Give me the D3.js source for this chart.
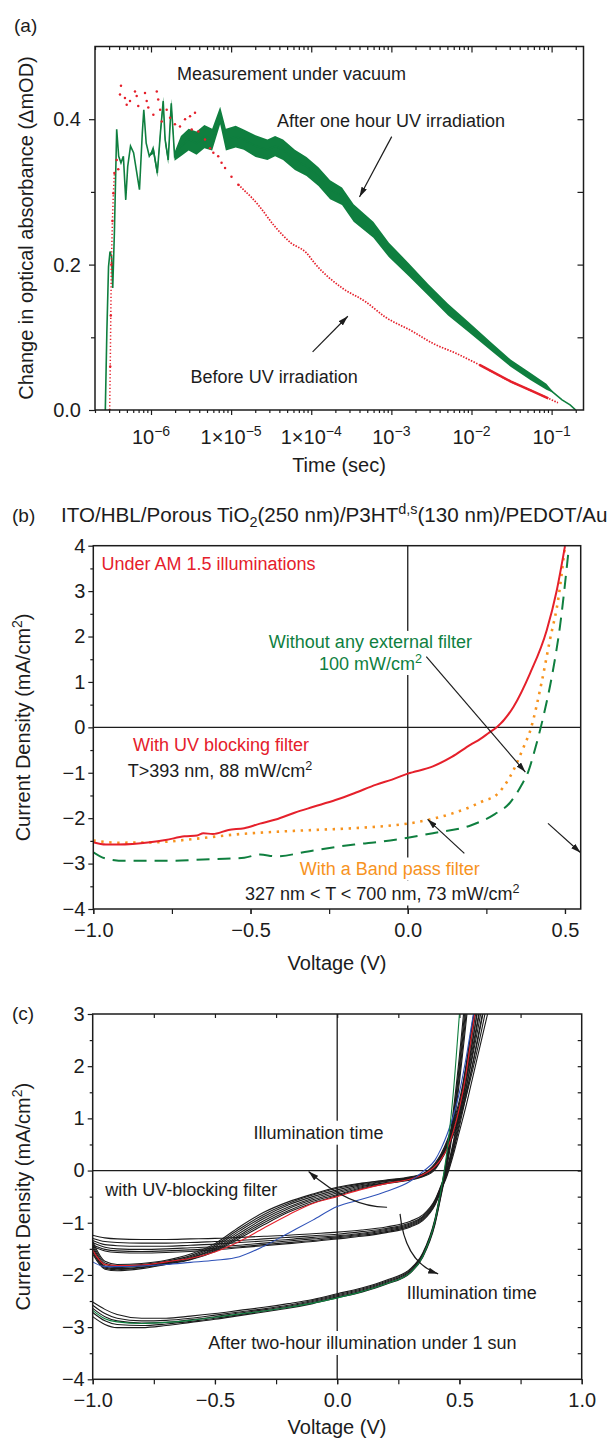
<!DOCTYPE html>
<html>
<head>
<meta charset="utf-8">
<script src="https://cdn.jsdelivr.net/npm/d3@7"></script>
<style>
  body { margin: 0; background: #fff; }
  text { font-family: "Liberation Sans", Arial, Helvetica, sans-serif; }
</style>
</head>
<body>
<div id="chart"></div>
<script>
// ---------- panel (a): transient absorption, time in seconds ----------
const aTicks = [1e-6, 1e-5, 1e-4, 1e-3, 1e-2, 1e-1];
const aTickLabels = [["10", "−6"], ["1×10", "−5"], ["1×10", "−4"], ["10", "−3"], ["10", "−2"], ["10", "−1"]];

const greenT = [2.69e-7, 2.81e-7, 2.95e-7, 3.08e-7, 3.22e-7, 3.33e-7, 3.49e-7, 3.73e-7, 3.95e-7, 4.22e-7,
  4.52e-7, 4.84e-7, 5.12e-7, 5.55e-7, 6.06e-7, 7.18e-7, 7.79e-7, 8.13e-7, 8.71e-7, 9.52e-7,
  1.07e-6, 1.2e-6, 1.31e-6, 1.42e-6, 1.5e-6, 1.64e-6, 1.79e-6, 1.97e-6, 2.36e-6, 2.95e-6,
  3.7e-6, 4.64e-6, 5.8e-6, 7.3e-6, 8.6e-6, 1.14e-5, 1.44e-5, 2.02e-5, 2.84e-5, 3.54e-5,
  4.45e-5, 6.25e-5, 8.73e-5, 1.23e-4, 1.72e-4, 2.42e-4, 3.38e-4, 5.96e-4, 9.34e-4, 1.65e-3,
  2.9e-3, 5.1e-3, 9.0e-3, 0.0177, 0.0311, 0.0548, 0.086, 0.108, 0.135, 0.17, 0.2];
const greenV = [0, 0.106, 0.197, 0.218, 0.211, 0.168, 0.243, 0.386, 0.349, 0.340,
  0.349, 0.289, 0.335, 0.363, 0.354, 0.303, 0.381, 0.413, 0.367, 0.349,
  0.358, 0.326, 0.381, 0.425, 0.372, 0.344, 0.422, 0.349, 0.363, 0.372,
  0.367, 0.376, 0.372, 0.405, 0.372, 0.376, 0.372, 0.363, 0.358, 0.363,
  0.358, 0.344, 0.335, 0.321, 0.303, 0.294, 0.271, 0.248, 0.220, 0.193,
  0.165, 0.138, 0.115, 0.087, 0.064, 0.046, 0.032, 0.023, 0.014, 0.007, 0];
// half-width of the noisy band around the green trace
const greenSpread = [0, 0, 0, 0, 0, 0, 0, 0, 0, 0,
  0, 0, 0, 0, 0, 0, 0, 0, 0, 0,
  0.006, 0.006, 0.006, 0.006, 0.006, 0.006, 0.006, 0.006, 0.014, 0.015,
  0.016, 0.016, 0.015, 0.012, 0.015, 0.015, 0.014, 0.015, 0.014, 0.014,
  0.014, 0.014, 0.013, 0.013, 0.013, 0.012, 0.012, 0.011, 0.010, 0.009,
  0.008, 0.008, 0.007, 0.006, 0.005, 0.005, 0.004, 0, 0, 0, 0];

const redScatterT = [3.05e-7, 3.1e-7, 3.15e-7, 3.2e-7, 3.3e-7, 3.39e-7, 3.49e-7, 3.73e-7, 3.9e-7, 4.1e-7,
  4.22e-7, 4.73e-7, 4.97e-7, 5.47e-7, 6.31e-7, 6.63e-7, 6.93e-7, 8.41e-7, 8.84e-7, 9.25e-7,
  1.07e-6, 1.18e-6, 1.23e-6, 1.3e-6, 1.36e-6, 1.57e-6, 1.73e-6, 1.99e-6, 2.3e-6, 2.66e-6,
  3.07e-6, 3.22e-6, 3.54e-6, 3.9e-6, 4.72e-6, 5.45e-6, 6.0e-6, 6.9e-6, 7.6e-6, 8.4e-6,
  1.01e-5, 1.23e-5];
const redScatterV = [0.0, 0.06, 0.13, 0.2, 0.26, 0.298, 0.326, 0.344, 0.331, 0.434,
  0.446, 0.429, 0.42, 0.425, 0.438, 0.432, 0.418, 0.436, 0.425, 0.416,
  0.406, 0.438, 0.427, 0.413, 0.397, 0.413, 0.402, 0.393, 0.39, 0.40,
  0.404, 0.386, 0.409, 0.383, 0.372, 0.36, 0.354, 0.349, 0.34, 0.333,
  0.321, 0.31];
const redDecayT = [1.23e-5, 1.49e-5, 1.81e-5, 2.18e-5, 3.54e-5, 5.56e-5, 8.73e-5, 1.1e-4, 2.42e-4, 4.76e-4,
  8.37e-4, 1.85e-3, 3.25e-3, 6.4e-3, 0.0126, 0.0311, 0.0548, 0.091, 0.12];
const redDecayV = [0.31, 0.301, 0.292, 0.282, 0.252, 0.230, 0.216, 0.202, 0.168, 0.149,
  0.128, 0.108, 0.092, 0.078, 0.062, 0.039, 0.027, 0.016, 0.010];

// ---------- panel (b): J-V under different filters ----------
const bRedV = [-1, -0.96, -0.92, -0.82, -0.77, -0.71, -0.67, -0.65, -0.62, -0.57, -0.52, -0.47, -0.42, -0.36, -0.30,
  -0.23, -0.17, -0.10, -0.05, 0.0, 0.08, 0.14, 0.20, 0.23, 0.26, 0.283, 0.336, 0.389, 0.442, 0.474, 0.50];
const bRedJ = [-2.53, -2.58, -2.58, -2.53, -2.48, -2.40, -2.38, -2.33, -2.35, -2.26, -2.22, -2.12, -2.03, -1.88, -1.75,
  -1.60, -1.45, -1.26, -1.15, -1.02, -0.86, -0.65, -0.38, -0.26, -0.11, 0.0, 0.45, 1.19, 2.14, 3.02, 3.99];
const bOrangeV = [-1, -0.92, -0.80, -0.67, -0.55, -0.42, -0.30, -0.17, -0.05, 0.0, 0.07, 0.14, 0.20, 0.24, 0.28,
  0.325, 0.367, 0.39, 0.426, 0.452, 0.479, 0.50];
const bOrangeJ = [-2.49, -2.54, -2.53, -2.45, -2.36, -2.30, -2.26, -2.22, -2.16, -2.12, -2.03, -1.90, -1.75, -1.62, -1.50,
  -1.09, -0.46, -0.06, 1.0, 1.92, 2.84, 3.99];
const bGreenV = [-1, -0.96, -0.90, -0.77, -0.65, -0.52, -0.47, -0.42, -0.30, -0.17, -0.10, 0.0, 0.08, 0.20, 0.277,
  0.325, 0.362, 0.383, 0.404, 0.431, 0.458, 0.484, 0.51];
const bGreenJ = [-2.75, -2.89, -2.94, -2.94, -2.91, -2.87, -2.80, -2.84, -2.71, -2.58, -2.53, -2.43, -2.33, -2.16, -1.91,
  -1.66, -1.27, -0.98, -0.50, 0.23, 1.11, 2.22, 3.80];

// ---------- panel (c): J-V curves vs illumination time ----------
const cV = [-1, -0.95, -0.9, -0.8, -0.7, -0.6, -0.5, -0.4, -0.3, -0.2, -0.1, 0, 0.1, 0.2, 0.3, 0.35,
  0.4, 0.425, 0.45, 0.475, 0.5, 0.525, 0.55, 0.575, 0.6, 0.625];
const cFlat1 = [-1.24, -1.29, -1.31, -1.32, -1.32, -1.31, -1.30, -1.28, -1.26, -1.24, -1.21, -1.18, -1.14, -1.08, -0.97, -0.85, -0.56, -0.28, 0.05, 0.55, 1.20, 1.95, 2.75, 3.5, 4.2, 5.0];
const cFlat2 = [-1.30, -1.36, -1.38, -1.39, -1.39, -1.38, -1.36, -1.34, -1.31, -1.28, -1.25, -1.22, -1.17, -1.11, -1.00, -0.88, -0.58, -0.30, 0.02, 0.50, 1.10, 1.80, 2.55, 3.3, 4.0, 4.8];
const cFlat3 = [-1.34, -1.42, -1.44, -1.45, -1.45, -1.43, -1.41, -1.38, -1.35, -1.32, -1.28, -1.25, -1.20, -1.13, -1.02, -0.90, -0.60, -0.32, 0.00, 0.45, 1.00, 1.65, 2.35, 3.1, 3.8, 4.6];
const cFlat4 = [-1.38, -1.47, -1.50, -1.51, -1.50, -1.48, -1.46, -1.43, -1.39, -1.35, -1.31, -1.27, -1.22, -1.15, -1.04, -0.92, -0.62, -0.34, -0.03, 0.40, 0.92, 1.50, 2.15, 2.85, 3.5, 4.2];
const cFlat5 = [-1.42, -1.51, -1.54, -1.55, -1.54, -1.52, -1.49, -1.46, -1.42, -1.38, -1.34, -1.29, -1.24, -1.17, -1.06, -0.94, -0.64, -0.36, -0.06, 0.36, 0.85, 1.38, 1.95, 2.55, 3.15, 3.8];
const cFlat6 = [-1.45, -1.54, -1.57, -1.58, -1.57, -1.55, -1.52, -1.48, -1.44, -1.40, -1.36, -1.31, -1.26, -1.19, -1.08, -0.96, -0.66, -0.38, -0.09, 0.30, 0.75, 1.20, 1.70, 2.20, 2.70, 3.2];
const cS1 = [-1.36, -1.74, -1.80, -1.78, -1.72, -1.60, -1.40, -1.08, -0.80, -0.60, -0.45, -0.32, -0.24, -0.18, -0.12, -0.06, 0.14, 0.32, 0.58, 0.92, 1.35, 1.95, 2.70, 3.5, 4.3, 5.1];
const cS2 = [-1.40, -1.77, -1.82, -1.80, -1.74, -1.63, -1.43, -1.12, -0.84, -0.63, -0.47, -0.34, -0.25, -0.19, -0.13, -0.07, 0.12, 0.30, 0.55, 0.88, 1.28, 1.85, 2.55, 3.3, 4.1, 4.9];
const cS3 = [-1.44, -1.80, -1.84, -1.82, -1.76, -1.65, -1.46, -1.16, -0.88, -0.66, -0.50, -0.37, -0.27, -0.20, -0.14, -0.08, 0.10, 0.28, 0.52, 0.84, 1.22, 1.75, 2.40, 3.1, 3.9, 4.7];
const cS4 = [-1.48, -1.83, -1.86, -1.83, -1.77, -1.67, -1.49, -1.20, -0.92, -0.70, -0.53, -0.40, -0.29, -0.21, -0.15, -0.09, 0.08, 0.26, 0.50, 0.80, 1.16, 1.65, 2.25, 2.9, 3.6, 4.4];
const cS5 = [-1.52, -1.85, -1.88, -1.85, -1.78, -1.68, -1.51, -1.24, -0.96, -0.73, -0.56, -0.43, -0.31, -0.23, -0.16, -0.10, 0.06, 0.24, 0.47, 0.76, 1.10, 1.55, 2.10, 2.7, 3.35, 4.0];
const cS6 = [-1.56, -1.87, -1.90, -1.86, -1.79, -1.70, -1.53, -1.27, -1.00, -0.77, -0.59, -0.46, -0.33, -0.24, -0.17, -0.11, 0.04, 0.22, 0.44, 0.72, 1.04, 1.45, 1.95, 2.5, 3.1, 3.7];
const cS7 = [-1.60, -1.89, -1.92, -1.88, -1.80, -1.71, -1.55, -1.30, -1.04, -0.80, -0.62, -0.48, -0.35, -0.25, -0.18, -0.12, 0.02, 0.20, 0.42, 0.68, 0.98, 1.38, 1.85, 2.35, 2.9, 3.5];
const cRed = [-1.53, -1.80, -1.82, -1.81, -1.75, -1.68, -1.56, -1.36, -1.10, -0.85, -0.63, -0.50, -0.36, -0.25, -0.16, -0.08, 0.08, 0.22, 0.42, 0.75, 1.20, 1.80, 2.60, 3.4, 4.2, 5.0];
const cBlue = [-1.75, -1.84, -1.84, -1.83, -1.80, -1.76, -1.72, -1.65, -1.45, -1.20, -0.95, -0.69, -0.55, -0.40, -0.20, -0.02, 0.20, 0.42, 0.70, 1.05, 1.50, 2.10, 2.80, 3.5, 4.2, 4.9];
const cLow1 = [-2.52, -2.66, -2.76, -2.83, -2.83, -2.79, -2.74, -2.68, -2.62, -2.55, -2.47, -2.36, -2.25, -2.10, -1.88, -1.58, -0.92, -0.35, 0.30, 1.15, 2.20, 3.4, 4.6, 5.8, 7.0, 8.0];
const cLow2 = [-2.58, -2.74, -2.83, -2.88, -2.87, -2.83, -2.77, -2.71, -2.65, -2.58, -2.49, -2.38, -2.27, -2.12, -1.90, -1.60, -0.95, -0.38, 0.25, 1.05, 2.05, 3.2, 4.4, 5.6, 6.8, 8.0];
const cLow3 = [-2.64, -2.80, -2.88, -2.92, -2.91, -2.86, -2.80, -2.73, -2.67, -2.60, -2.51, -2.40, -2.29, -2.14, -1.92, -1.62, -0.98, -0.42, 0.20, 0.98, 1.95, 3.05, 4.2, 5.4, 6.6, 7.8];
const cLow4 = [-2.72, -2.88, -2.95, -2.97, -2.94, -2.89, -2.83, -2.76, -2.69, -2.62, -2.53, -2.42, -2.31, -2.16, -1.94, -1.64, -1.00, -0.45, 0.15, 0.90, 1.82, 2.9, 4.0, 5.2, 6.4, 7.6];
const cLow5 = [-2.80, -2.95, -3.01, -3.01, -2.97, -2.91, -2.85, -2.78, -2.71, -2.64, -2.55, -2.44, -2.33, -2.18, -1.96, -1.66, -1.03, -0.48, 0.10, 0.82, 1.70, 2.75, 3.85, 5.0, 6.2, 7.4];
const cGreen = [-2.68, -2.84, -2.90, -2.93, -2.91, -2.87, -2.81, -2.75, -2.69, -2.62, -2.54, -2.44, -2.32, -2.17, -1.95, -1.64, -0.96, -0.36, 0.40, 1.50, 3.00, 4.5, 6.0, 7.5, 9.0, 10.5];

const ink = "#1c1c1c";
const cRedInk = "#e5202b", cGreenInk = "#0f7f3f", cOrangeInk = "#f7931e", cBlueInk = "#2f52b8";

const svg = d3.select("#chart").append("svg")
  .attr("width", 616).attr("height", 1438);

const defs = svg.append("defs");
defs.append("marker")
  .attr("id", "arr").attr("viewBox", "0 0 10 10").attr("refX", 10).attr("refY", 5)
  .attr("markerWidth", 10).attr("markerHeight", 6).attr("markerUnits", "userSpaceOnUse")
  .attr("preserveAspectRatio", "none").attr("orient", "auto")
  .append("path").attr("d", "M0,0L10,5L0,10Z").attr("fill", ink);

function clip(id, x0, y0, x1, y1) {
  defs.append("clipPath").attr("id", id).append("rect")
    .attr("x", x0).attr("y", y0).attr("width", x1 - x0).attr("height", y1 - y0);
}

// text with sub/superscript pieces
function rich(sel, parts, fs) {
  let shift = 0;
  parts.forEach(([s, kind]) => {
    const target = kind === "sup" ? -0.38 * fs : kind === "sub" ? 0.22 * fs : 0;
    const t = sel.append("tspan").text(s).attr("dy", target - shift);
    if (kind) t.attr("font-size", fs * 0.7);
    shift = target;
  });
  return sel;
}

function label(g, x, y, parts, opts = {}) {
  const fs = opts.size || 18;
  const t = g.append("text").attr("x", x).attr("y", y)
    .attr("font-size", fs).attr("fill", opts.color || ink)
    .attr("text-anchor", opts.anchor || "start");
  rich(t, parts, fs);
  return t;
}

function axisG(g, axis, tr) {
  const a = g.append("g").attr("transform", tr).call(axis);
  a.select(".domain").remove();
  a.selectAll(".tick line").attr("stroke", ink).attr("stroke-width", 1.2);
  a.selectAll("text").attr("font-size", 20).attr("fill", ink);
  return a;
}

function whiteBehind(layer, nodes, pad) {
  nodes.forEach(n => {
    const b = n.node().getBBox();
    layer.append("rect").attr("x", b.x - pad).attr("y", b.y - pad)
      .attr("width", b.width + 2 * pad).attr("height", b.height + 2 * pad).attr("fill", "#fff");
  });
}

// ================= panel (a) =================
const xA = d3.scaleLog().domain([2e-7, 0.25]).range([95, 583.5]);
const yA = d3.scaleLinear().domain([0, 0.5]).range([410, 46.5]);
const gA = svg.append("g");
clip("clipA", 95, 46.5, 583.5, 410);

const aMinor = xA.ticks().filter(v => !aTicks.some(m => Math.abs(m - v) / m < 1e-6));
axisG(gA, d3.axisBottom(xA).tickValues(aTicks).tickSize(5).tickFormat(""), "translate(0,410)");
axisG(gA, d3.axisBottom(xA).tickValues(aMinor).tickSize(3).tickFormat(""), "translate(0,410)");
axisG(gA, d3.axisTop(xA).tickValues(aTicks).tickSize(-6).tickFormat(""), "translate(0,46.5)");
axisG(gA, d3.axisTop(xA).tickValues(aMinor).tickSize(-3.5).tickFormat(""), "translate(0,46.5)");
axisG(gA, d3.axisLeft(yA).tickValues([0, 0.2, 0.4]).tickSize(6).tickPadding(8).tickFormat(d3.format(".1f")), "translate(95,0)");
axisG(gA, d3.axisLeft(yA).tickValues([0.1, 0.3]).tickSize(4).tickFormat(""), "translate(95,0)");
axisG(gA, d3.axisRight(yA).tickValues([0.1, 0.2, 0.3, 0.4]).tickSize(-6).tickFormat(""), "translate(583.5,0)");

aTicks.forEach((v, i) => {
  label(gA, xA(v), 444, [[aTickLabels[i][0]], [aTickLabels[i][1], "sup"]], { size: 20, anchor: "middle" });
});

const gData = greenT.map((t, i) => ({ t, v: greenV[i], s: greenSpread[i] }));
const plotA = gA.append("g").attr("clip-path", "url(#clipA)");
plotA.append("path").datum(gData)
  .attr("fill", cGreenInk)
  .attr("d", d3.area().x(d => xA(d.t)).y0(d => yA(d.v - d.s)).y1(d => yA(d.v + d.s)));
plotA.append("path").datum(gData)
  .attr("fill", "none").attr("stroke", cGreenInk).attr("stroke-width", 1.6)
  .attr("d", d3.line().x(d => xA(d.t)).y(d => yA(d.v)));

const rScatter = redScatterT.map((t, i) => ({ t, v: redScatterV[i] }));
const rDecay = redDecayT.map((t, i) => ({ t, v: redDecayV[i] }));
plotA.append("path").datum(rScatter.slice(0, 7))
  .attr("fill", "none").attr("stroke", cRedInk).attr("stroke-width", 1.5)
  .attr("stroke-dasharray", "1.3,2.2").attr("d", d3.line().x(d => xA(d.t)).y(d => yA(d.v)));
plotA.selectAll("circle.rs").data(rScatter).join("circle").attr("class", "rs")
  .attr("cx", d => xA(d.t)).attr("cy", d => yA(d.v)).attr("r", 1.25).attr("fill", cRedInk);
plotA.append("path").datum(rDecay)
  .attr("fill", "none").attr("stroke", cRedInk).attr("stroke-width", 1.7)
  .attr("stroke-dasharray", "1.5,1.4")
  .attr("d", d3.line().x(d => xA(d.t)).y(d => yA(d.v)).curve(d3.curveMonotoneX));
plotA.append("path").datum(rDecay.filter(d => d.t >= 0.0126 && d.t <= 0.091))
  .attr("fill", "none").attr("stroke", cRedInk).attr("stroke-width", 2.6)
  .attr("d", d3.line().x(d => xA(d.t)).y(d => yA(d.v)));

gA.append("rect").attr("x", 95).attr("y", 46.5).attr("width", 488.5).attr("height", 363.5)
  .attr("fill", "none").attr("stroke", ink).attr("stroke-width", 1.5);

label(gA, 14, 32, [["(a)"]], { size: 19 });
label(gA, 339, 472, [["Time (sec)"]], { size: 20, anchor: "middle" });
gA.append("text").attr("transform", "translate(26,228) rotate(-90)").attr("dy", "0.35em")
  .attr("text-anchor", "middle").attr("font-size", 20).attr("fill", ink)
  .text("Change in optical absorbance (ΔmOD)");
label(gA, 177, 79.5, [["Measurement under vacuum"]]);
label(gA, 277, 126.5, [["After one hour UV irradiation"]]);
label(gA, 190.6, 382.5, [["Before UV irradiation"]]);
gA.append("line").attr("x1", xA(1.01e-3)).attr("y1", yA(0.376)).attr("x2", xA(4.0e-4)).attr("y2", yA(0.293))
  .attr("stroke", ink).attr("stroke-width", 1.2).attr("marker-end", "url(#arr)");
gA.append("line").attr("x1", xA(1.04e-4)).attr("y1", yA(0.08)).attr("x2", xA(2.86e-4)).attr("y2", yA(0.129))
  .attr("stroke", ink).attr("stroke-width", 1.2).attr("marker-end", "url(#arr)");

// ================= panel (b) =================
const xB = d3.scaleLinear().domain([-1, 0.55]).range([93.3, 580.7]);
const yB = d3.scaleLinear().domain([-4, 4]).range([909, 545.7]);
const gB = svg.append("g");
clip("clipB", 93.3, 545.7, 580.7, 909);

axisG(gB, d3.axisLeft(yB).tickValues(d3.range(-4, 5)).tickSize(5).tickPadding(3).tickFormat(d3.format("d")), "translate(93.3,0)");
axisG(gB, d3.axisLeft(yB).tickValues(d3.range(-3.5, 4, 1)).tickSize(3).tickFormat(""), "translate(93.3,0)");
axisG(gB, d3.axisBottom(xB).tickValues(d3.range(-1, 0.51, 0.25)).tickSize(5).tickFormat(""), "translate(0,909)");
axisG(gB, d3.axisBottom(xB).tickValues([-1, -0.5, 0, 0.5]).tickSize(5).tickPadding(9).tickFormat(d3.format(".1f")), "translate(0,909)");

gB.append("line").attr("x1", xB(-1)).attr("x2", xB(0.55)).attr("y1", yB(0)).attr("y2", yB(0))
  .attr("stroke", ink).attr("stroke-width", 1.3);
gB.append("line").attr("x1", xB(0)).attr("x2", xB(0)).attr("y1", yB(-4)).attr("y2", yB(4))
  .attr("stroke", ink).attr("stroke-width", 1.3);

const lineB = d3.line().x(d => xB(d[0])).y(d => yB(d[1])).curve(d3.curveMonotoneX);
const plotB = gB.append("g").attr("clip-path", "url(#clipB)");
plotB.append("path").datum(bGreenV.map((v, i) => [v, bGreenJ[i]]))
  .attr("fill", "none").attr("stroke", cGreenInk).attr("stroke-width", 2)
  .attr("stroke-dasharray", "13,8").attr("d", lineB);
plotB.append("path").datum(bOrangeV.map((v, i) => [v, bOrangeJ[i]]))
  .attr("fill", "none").attr("stroke", cOrangeInk).attr("stroke-width", 2.6)
  .attr("stroke-dasharray", "2.4,5.6").attr("d", lineB);
plotB.append("path").datum(bRedV.map((v, i) => [v, bRedJ[i]]))
  .attr("fill", "none").attr("stroke", cRedInk).attr("stroke-width", 2)
  .attr("d", lineB);

gB.append("rect").attr("x", 93.3).attr("y", 545.7).attr("width", 487.4).attr("height", 363.3)
  .attr("fill", "none").attr("stroke", ink).attr("stroke-width", 1.5);

const bgB = gB.append("g");
const bText = gB.append("g");
label(bText, 12, 522, [["(b)"]], { size: 19 });
label(bText, 61, 522, [["ITO/HBL/Porous TiO"], ["2", "sub"], ["(250 nm)/P3HT"], ["d,s", "sup"], ["(130 nm)/PEDOT/Au"]], { size: 20.6 });
label(bText, 337, 969.5, [["Voltage (V)"]], { size: 20, anchor: "middle" });
const ylabB = bText.append("text").attr("transform", "translate(30,727.4) rotate(-90)").attr("dy", "0.35em")
  .attr("text-anchor", "middle").attr("font-size", 20).attr("fill", ink);
rich(ylabB, [["Current Density (mA/cm"], ["2", "sup"], [")"]], 20);

label(bText, 101.4, 569.7, [["Under AM 1.5 illuminations"]], { color: cRedInk });
const tB1 = label(bText, 370.4, 648.4, [["Without any external filter"]], { color: cGreenInk, anchor: "middle" });
const tB2 = label(bText, 370.4, 669.5, [["100 mW/cm"], ["2", "sup"]], { color: cGreenInk, anchor: "middle" });
label(bText, 221, 751, [["With UV blocking filter"]], { color: cRedInk, anchor: "middle" });
label(bText, 220, 776.5, [["T>393 nm, 88 mW/cm"], ["2", "sup"]], { anchor: "middle" });
const tB3 = label(bText, 389.8, 875, [["With a Band pass filter"]], { color: cOrangeInk, anchor: "middle" });
const tB4 = label(bText, 382.2, 900, [["327 nm < T < 700 nm, 73 mW/cm"], ["2", "sup"]], { anchor: "middle" });
whiteBehind(bgB, [tB1, tB2, tB3, tB4], 1.5);

[[0.059, 1.555, 0.374, -0.985], [0.180, -2.775, 0.063, -2.026], [0.446, -2.115, 0.550, -2.762]].forEach(a => {
  bText.append("line").attr("x1", xB(a[0])).attr("y1", yB(a[1])).attr("x2", xB(a[2])).attr("y2", yB(a[3]))
    .attr("stroke", ink).attr("stroke-width", 1.2).attr("marker-end", "url(#arr)");
});

// ================= panel (c) =================
const xC = d3.scaleLinear().domain([-1, 1]).range([92.7, 581.7]);
const yC = d3.scaleLinear().domain([-4, 3]).range([1379.3, 1014]);
const gC = svg.append("g");
clip("clipC", 92.7, 1014, 581.7, 1379.3);

axisG(gC, d3.axisLeft(yC).tickValues(d3.range(-4, 4)).tickSize(5).tickPadding(3).tickFormat(d3.format("d")), "translate(92.7,0)");
axisG(gC, d3.axisLeft(yC).tickValues(d3.range(-3.5, 3, 1)).tickSize(3).tickFormat(""), "translate(92.7,0)");
axisG(gC, d3.axisRight(yC).tickValues(d3.range(-3.5, 3, 0.5)).tickSize(-4).tickFormat(""), "translate(581.7,0)");
axisG(gC, d3.axisBottom(xC).tickValues(d3.range(-1, 1.01, 0.25)).tickSize(5).tickFormat(""), "translate(0,1379.3)");
axisG(gC, d3.axisBottom(xC).tickValues([-1, -0.5, 0, 0.5, 1]).tickSize(5).tickPadding(8.5).tickFormat(d3.format(".1f")), "translate(0,1379.3)");
axisG(gC, d3.axisTop(xC).tickValues(d3.range(-0.75, 1, 0.25)).tickSize(-4).tickFormat(""), "translate(0,1014)");

gC.append("line").attr("x1", xC(-1)).attr("x2", xC(1)).attr("y1", yC(0)).attr("y2", yC(0))
  .attr("stroke", ink).attr("stroke-width", 1.3);
gC.append("line").attr("x1", xC(0)).attr("x2", xC(0)).attr("y1", yC(-4)).attr("y2", yC(3))
  .attr("stroke", ink).attr("stroke-width", 1.3);

const lineC = d3.line().x(d => xC(d[0])).y(d => yC(d[1])).curve(d3.curveMonotoneX);
const plotC = gC.append("g").attr("clip-path", "url(#clipC)");
const cSeries = [
  [cFlat1, ink], [cFlat2, ink], [cFlat3, ink], [cFlat4, ink], [cFlat5, ink], [cFlat6, ink],
  [cS1, ink], [cS2, ink], [cS3, ink], [cS4, ink], [cS5, ink], [cS6, ink], [cS7, ink],
  [cLow1, ink], [cLow2, ink], [cLow3, ink], [cLow4, ink], [cLow5, ink],
  [cRed, cRedInk], [cBlue, cBlueInk], [cGreen, cGreenInk]
];
plotC.selectAll("path.iv").data(cSeries).join("path").attr("class", "iv")
  .attr("fill", "none").attr("stroke", d => d[1]).attr("stroke-width", 1.1)
  .attr("d", d => lineC(cV.map((v, i) => [v, d[0][i]])));

gC.append("rect").attr("x", 92.7).attr("y", 1014).attr("width", 489).attr("height", 365.3)
  .attr("fill", "none").attr("stroke", ink).attr("stroke-width", 1.5);

const bgC = gC.append("g");
const cText = gC.append("g");
label(cText, 12, 1020, [["(c)"]], { size: 19 });
label(cText, 337, 1433.5, [["Voltage (V)"]], { size: 20, anchor: "middle" });
const ylabC = cText.append("text").attr("transform", "translate(30,1196.7) rotate(-90)").attr("dy", "0.35em")
  .attr("text-anchor", "middle").attr("font-size", 20).attr("fill", ink);
rich(ylabC, [["Current Density (mA/cm"], ["2", "sup"], [")"]], 20);
const tC1 = label(cText, 253.5, 1138.7, [["Illumination time"]]);
label(cText, 105.3, 1196.4, [["with UV-blocking filter"]]);
label(cText, 406.8, 1298.7, [["Illumination time"]]);
const tC2 = label(cText, 208.3, 1349, [["After two-hour illumination under 1 sun"]]);
whiteBehind(bgC, [tC1, tC2], 2);

const qpath = (a) => `M${xC(a[0])},${yC(a[1])}Q${xC(a[2])},${yC(a[3])} ${xC(a[4])},${yC(a[5])}`;
[[0.204, -0.703, 0.052, -0.709, -0.117, -0.019], [0.257, -0.83, 0.277, -1.763, 0.413, -1.979]].forEach(a => {
  cText.append("path").attr("d", qpath(a)).attr("fill", "none")
    .attr("stroke", ink).attr("stroke-width", 1.2).attr("marker-end", "url(#arr)");
});
</script>
</body>
</html>
